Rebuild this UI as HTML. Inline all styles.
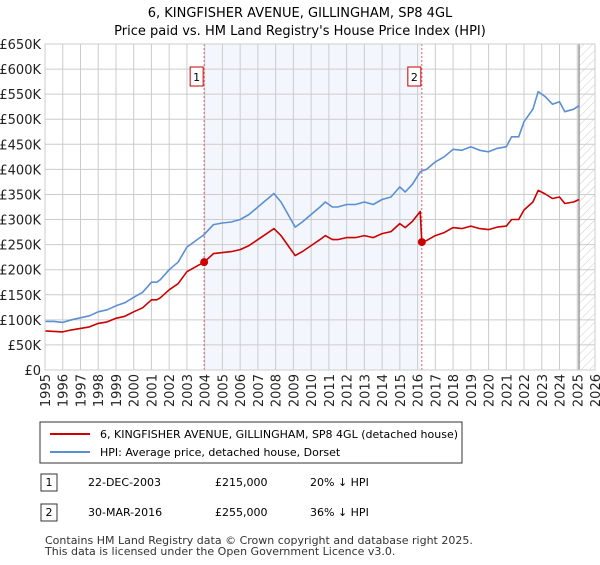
<!DOCTYPE html>
<html><head><meta charset="utf-8"><style>
body{margin:0;background:#fff;font-family:"Liberation Sans","DejaVu Sans",sans-serif;}
svg text{font-family:"DejaVu Sans","Liberation Sans",sans-serif;}
</style></head><body>
<svg id="c" width="600" height="560" viewBox="0 0 600 560" xmlns="http://www.w3.org/2000/svg">
<defs><pattern id="hatch" width="6" height="6" patternUnits="userSpaceOnUse" patternTransform="rotate(45)"><line x1="0" y1="0" x2="0" y2="6" stroke="#ccc" stroke-width="1"/></pattern></defs>
<text x="300" y="17" text-anchor="middle" font-size="13">6, KINGFISHER AVENUE, GILLINGHAM, SP8 4GL</text>
<text x="300" y="35" text-anchor="middle" font-size="13">Price paid vs. HM Land Registry's House Price Index (HPI)</text>
<g id="plot"></g>
<g>
<rect x="40" y="422" width="422" height="41" fill="#fff" stroke="#333" stroke-width="1"/>
<line x1="50" y1="434" x2="90" y2="434" stroke="#cc0000" stroke-width="2"/>
<text x="100" y="438" font-size="11">6, KINGFISHER AVENUE, GILLINGHAM, SP8 4GL (detached house)</text>
<line x1="50" y1="452" x2="90" y2="452" stroke="#5b8fd4" stroke-width="2"/>
<text x="100" y="456" font-size="11">HPI: Average price, detached house, Dorset</text>
</g>
<g font-size="11">
<rect x="41" y="474" width="16" height="17" fill="#fff" stroke="#333"/><text x="49" y="486" text-anchor="middle">1</text>
<text x="88" y="486">22-DEC-2003</text><text x="215" y="486">£215,000</text><text x="310" y="486">20% ↓ HPI</text>
<rect x="41" y="504" width="16" height="17" fill="#fff" stroke="#333"/><text x="49" y="516" text-anchor="middle">2</text>
<text x="88" y="516">30-MAR-2016</text><text x="215" y="516">£255,000</text><text x="310" y="516">36% ↓ HPI</text>
</g>
<text x="45" y="544" font-size="11" fill="#333">Contains HM Land Registry data © Crown copyright and database right 2025.</text>
<text x="45" y="555" font-size="11" fill="#333">This data is licensed under the Open Government Licence v3.0.</text>
</svg>
<script>
const dates=[1995,1995.5,1996,1996.5,1997,1997.5,1998,1998.5,1999,1999.5,2000,2000.5,2001,2001.3,2001.5,2002,2002.5,2003,2003.5,2003.97,2004.5,2005,2005.5,2006,2006.5,2007,2007.5,2007.9,2008.3,2008.7,2009.1,2009.5,2010,2010.5,2010.8,2011.2,2011.5,2012,2012.5,2013,2013.5,2014,2014.5,2015,2015.3,2015.7,2016.15,2016.24,2016.5,2017,2017.5,2018,2018.5,2019,2019.5,2020,2020.5,2021,2021.3,2021.7,2022,2022.5,2022.8,2023.2,2023.6,2024,2024.3,2024.8,2025.1];
const hpiValues=[97,97,95,100,104,108,116,120,128,134,145,155,175,175,180,200,215,245,258,270,290,293,295,300,310,325,340,352,335,310,285,295,310,325,335,325,325,330,330,335,330,340,345,365,355,370,395,397,400,415,425,440,438,445,438,435,442,445,465,465,495,520,555,545,530,535,515,520,527];
const propertyValues=[78,77,76,80,83,86,93,96,103,107,116,124,140,140,144,160,172,196,206,215,232,234,236,240,248,260,272,282,268,248,228,236,248,260,268,260,260,264,264,268,264,272,276,292,284,296,316,255,258,268,274,284,282,287,282,280,285,287,300,300,319,335,358,351,342,345,332,335,340];
const saleDates=[2003.97,2016.24];
const salePrices=[215,255];
const saleLabels=["1","2"];
const yTicks=[0,50,100,150,200,250,300,350,400,450,500,550,600,650];
const yTickLabels=["£0","£50K","£100K","£150K","£200K","£250K","£300K","£350K","£400K","£450K","£500K","£550K","£600K","£650K"];
const xTicks=[1995,1996,1997,1998,1999,2000,2001,2002,2003,2004,2005,2006,2007,2008,2009,2010,2011,2012,2013,2014,2015,2016,2017,2018,2019,2020,2021,2022,2023,2024,2025,2026];
const dataEnd=2025.1;

const X0=45,X1=595,Y0=370,Y1=44;
const xs=d=>X0+(d-1995)/(2026-1995)*(X1-X0);
const ys=v=>Y0-v/650*(Y0-Y1);
const NS="http://www.w3.org/2000/svg";
const g=document.getElementById('plot');
function mk(t,a){const e=document.createElementNS(NS,t);for(const k in a)e.setAttribute(k,a[k]);g.appendChild(e);return e;}
let e;
e=mk('rect',{x:xs(saleDates[0]),y:Y1,width:xs(saleDates[1])-xs(saleDates[0]),height:Y0-Y1,fill:'#eef3fc',opacity:0.7});


e=mk('rect',{x:xs(dataEnd),y:Y1,width:X1-xs(dataEnd),height:Y0-Y1,fill:'url(#hatch)'});


yTicks.forEach((v,i)=>{
 e=mk('line',{x1:X0,x2:X1,y1:ys(v),y2:ys(v),stroke:'#ccc','stroke-width':1});
 
 
 e=mk('text',{x:X0-4,y:ys(v)+5,'text-anchor':'end','font-size':13,fill:'#222'});
 e.textContent=yTickLabels[i];
 
 
});
xTicks.forEach(d=>{
 e=mk('line',{x1:xs(d),x2:xs(d),y1:Y1,y2:Y0,stroke:'#ccc','stroke-width':1});
 
 
 const x=xs(d)+5,y=Y0+4;
 e=mk('text',{x:x,y:y,'text-anchor':'end','font-size':13,fill:'#222',transform:`rotate(-90 ${x} ${y})`});
 e.textContent=d;
 
 
});
e=mk('line',{x1:xs(dataEnd),x2:xs(dataEnd),y1:Y1,y2:Y0,stroke:'#999','stroke-width':1.5});


saleDates.forEach((d,i)=>{
 e=mk('line',{x1:xs(d),x2:xs(d),y1:Y1,y2:Y0,stroke:'#e06060','stroke-width':1,'stroke-dasharray':'2,2'});
 
 
});
function path(vals,col,name){
 const dd=vals.map((v,i)=>(i?'L':'M')+xs(dates[i]).toFixed(1)+','+ys(v).toFixed(1)).join('');
 e=mk('path',{d:dd,fill:'none',stroke:col,'stroke-width':1.6,'stroke-linejoin':'round'});
 
 
}
path(hpiValues,'#5b8fd4','hpi-line');
path(propertyValues,'#cc0000','property-line');
saleDates.forEach((d,i)=>{
 e=mk('circle',{cx:xs(d),cy:ys(salePrices[i]),r:4,fill:'#cc0000'});
 
 
 e=mk('rect',{x:xs(d)-14,y:67,width:13,height:19,fill:'#fff',stroke:'#cc0000'});
 
 
 e=mk('text',{x:xs(d)-7.5,y:81,'text-anchor':'middle','font-size':11});
 e.textContent=saleLabels[i];
 
 
});
e=mk('rect',{x:X0,y:Y1,width:X1-X0,height:Y0-Y1,fill:'none',stroke:'#ccc'});


</script>
</body></html>
